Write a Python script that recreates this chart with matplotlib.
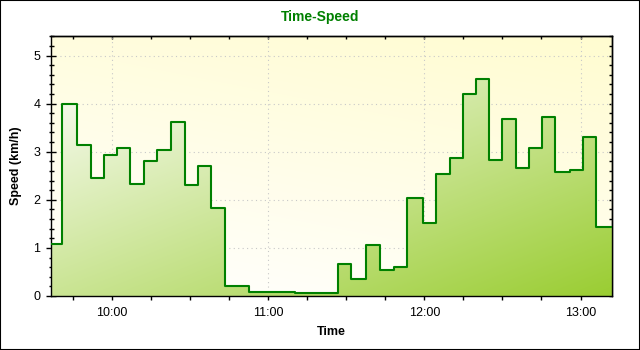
import numpy as np
import pandas as pd
import matplotlib
matplotlib.use("Agg")
import matplotlib.pyplot as plt
from matplotlib.ticker import MultipleLocator, FuncFormatter
from matplotlib.patches import Rectangle

plt.rcParams['font.family'] = ['Liberation Sans', 'DejaVu Sans']

# start time of each reading (the last entry closes the final step)
horas = ["09:36:18", "09:40:54", "09:46:18", "09:51:42", "09:56:42", "10:01:48",
         "10:06:48", "10:12:12", "10:17:06", "10:22:36", "10:27:48", "10:32:48",
         "10:37:48", "10:43:12", "10:52:36", "11:10:18", "11:26:42", "11:31:48",
         "11:37:30", "11:43:00", "11:48:24", "11:53:18", "11:59:30", "12:04:24",
         "12:09:48", "12:14:54", "12:19:48", "12:24:54", "12:29:54", "12:35:06",
         "12:40:12", "12:45:12", "12:50:18", "12:55:48", "13:01:06", "13:06:06",
         "13:12:06"]
velocidade = [1.09, 4.00, 3.13, 2.46, 2.94, 3.07, 2.33, 2.80, 3.03, 3.61, 2.30, 2.71,
              1.84, 0.21, 0.09, 0.06, 0.67, 0.35, 1.07, 0.55, 0.60, 2.04, 1.52, 2.54,
              2.86, 4.21, 4.52, 2.82, 3.69, 2.67, 3.08, 3.73, 2.58, 2.61, 3.31, 1.44]

t = pd.to_timedelta(horas).total_seconds().to_numpy() / 3600.0
v = np.array(velocidade + [velocidade[-1]])

fig = plt.figure(figsize=(6.4, 3.5), dpi=100)
ax = fig.add_axes([50.5 / 640, 54 / 350, 561.5 / 640, 259.7 / 350])
ax.set_facecolor('none')

# fundo com gradiente (branco embaixo -> amarelo claro em cima)
yy, xx = np.mgrid[0:1:200j, 0:1:200j]
k = np.clip(0.7 * yy + 0.3 * xx, 0, 1)[..., None]
c1 = np.array([255, 255, 255]) / 255
c2 = np.array([255, 252, 208]) / 255
ax.imshow(c1 * (1 - k) + c2 * k, extent=(0, 1, 0, 1), origin='lower',
          transform=ax.transAxes, aspect='auto', zorder=0, interpolation='bilinear')

ax.grid(True, which='major', color='#c8c8c8', linestyle=(0, (1, 3)), linewidth=0.8, zorder=1)
ax.set_axisbelow(True)

# area sob a curva com gradiente diagonal
area = ax.fill_between(t, 0, v, step='post', facecolor='none', edgecolor='none')
yy, xx = np.mgrid[0:1:200j, 0:1:200j]
k = ((xx + (1 - yy)) / 2)[..., None]
f1 = np.array([250, 252, 245]) / 255
f2 = np.array([154, 205, 50]) / 255
im = ax.imshow(f1 * (1 - k) + f2 * k, extent=(t[0], t[-1], 0, v.max()), origin='lower',
               aspect='auto', zorder=2, interpolation='bilinear')
im.set_clip_path(area.get_paths()[0], transform=ax.transData)

ax.step(t, v, where='post', color='#008000', linewidth=1.5, zorder=3)

ax.set_xlim(t[0], t[-1])
ax.set_ylim(0, 5.4)

ax.xaxis.set_major_locator(MultipleLocator(1))
ax.xaxis.set_minor_locator(MultipleLocator(0.25))
ax.xaxis.set_major_formatter(FuncFormatter(lambda h, p: "%02d:00" % round(h)))
ax.yaxis.set_major_locator(MultipleLocator(1))
ax.yaxis.set_minor_locator(MultipleLocator(0.2))

ax.tick_params(axis='x', which='major', direction='inout', length=5.8, width=1, pad=5, labelsize=9)
ax.tick_params(axis='x', which='minor', direction='out', length=2.9, width=1)
ax.tick_params(axis='y', which='major', direction='inout', length=6.5, width=1, pad=4, labelsize=9)
ax.tick_params(axis='y', which='minor', direction='inout', length=3.6, width=1)

topo = ax.secondary_xaxis('top')
topo.xaxis.set_major_locator(MultipleLocator(1))
topo.xaxis.set_minor_locator(MultipleLocator(0.25))
topo.tick_params(which='both', direction='in', length=2.2, width=1, labeltop=False)
direita = ax.secondary_yaxis('right')
direita.yaxis.set_major_locator(MultipleLocator(1))
direita.yaxis.set_minor_locator(MultipleLocator(0.2))
direita.tick_params(which='both', direction='in', length=2.2, width=1, labelright=False)

for eixo in (ax, topo, direita):
    for s in eixo.spines.values():
        s.set_linewidth(1.0)
        s.set_color('black')

ax.set_xlabel('Time', fontsize=9, fontweight='bold', va='center')
ax.xaxis.set_label_coords(0.5, -0.1405)
ax.set_ylabel('Speed (km/h)', fontsize=9, fontweight='bold', va='center')
ax.yaxis.set_label_coords(-0.0614, 0.5)

fig.text(0.5, 1 - 17 / 350, 'Time-Speed', ha='center', va='center',
         fontsize=10, fontweight='bold', color='#008000')

fig.patches.append(Rectangle((0, 0), 1, 1, transform=fig.transFigure, fill=False,
                             edgecolor='black', linewidth=1.5))

fig.savefig('out.png', dpi=100)
